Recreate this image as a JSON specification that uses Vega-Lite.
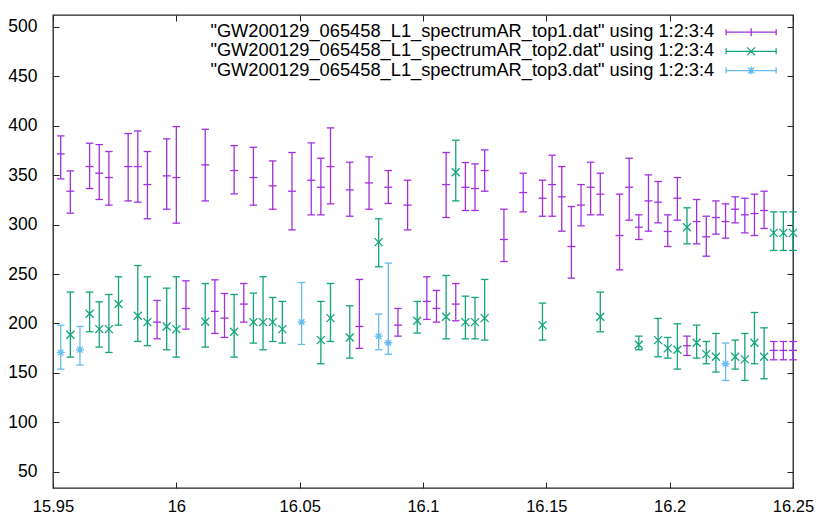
{
 "$schema": "https://vega.github.io/schema/vega-lite/v6.json",
 "width": 740, "height": 473,
 "autosize": {"type": "none"},
 "padding": {"left": 53, "top": 15, "right": 25, "bottom": 27},
 "background": "white",
 "config": {
  "view": {"stroke": "#222", "strokeWidth": 1.3},
  "font": "Liberation Sans",
  "axis": {"labelFont": "Liberation Sans", "labelFontSize": 17.5, "labelColor": "#000", "tickColor": "#222", "tickWidth": 1, "tickSize": -6, "labelPadding": 17, "domain": false, "grid": false, "title": null}
 },
 "data": {"values": [
  {"s":"top1","x":15.953125,"y":371.4,"lo":346.2,"hi":389.6},
  {"s":"top1","x":15.957031,"y":333.7,"lo":311.5,"hi":354.2},
  {"s":"top1","x":15.964844,"y":358.6,"lo":336.4,"hi":382.2},
  {"s":"top1","x":15.96875,"y":351.9,"lo":325.3,"hi":380.8},
  {"s":"top1","x":15.972656,"y":347.5,"lo":319.6,"hi":373.8},
  {"s":"top1","x":15.980469,"y":358.6,"lo":323.9,"hi":392.0},
  {"s":"top1","x":15.984375,"y":358.6,"lo":322.6,"hi":394.6},
  {"s":"top1","x":15.988281,"y":340.4,"lo":305.8,"hi":373.8},
  {"s":"top1","x":15.992188,"y":201.4,"lo":184.5,"hi":223.3},
  {"s":"top1","x":15.996094,"y":349.2,"lo":315.5,"hi":386.6},
  {"s":"top1","x":16.0,"y":347.5,"lo":301.4,"hi":399.0},
  {"s":"top1","x":16.003906,"y":215.2,"lo":194.3,"hi":243.1},
  {"s":"top1","x":16.011719,"y":360.3,"lo":323.9,"hi":396.3},
  {"s":"top1","x":16.015625,"y":212.2,"lo":189.9,"hi":244.1},
  {"s":"top1","x":16.019531,"y":205.4,"lo":185.9,"hi":230.3},
  {"s":"top1","x":16.023438,"y":354.6,"lo":331.0,"hi":379.8},
  {"s":"top1","x":16.027344,"y":219.6,"lo":201.4,"hi":240.4},
  {"s":"top1","x":16.03125,"y":347.5,"lo":319.6,"hi":378.1},
  {"s":"top1","x":16.039063,"y":339.1,"lo":315.5,"hi":364.3},
  {"s":"top1","x":16.046875,"y":333.7,"lo":294.6,"hi":372.8},
  {"s":"top1","x":16.054688,"y":344.8,"lo":309.8,"hi":382.5},
  {"s":"top1","x":16.058594,"y":337.7,"lo":309.8,"hi":367.0},
  {"s":"top1","x":16.0625,"y":358.6,"lo":320.9,"hi":397.7},
  {"s":"top1","x":16.070313,"y":335.0,"lo":308.4,"hi":363.0},
  {"s":"top1","x":16.074219,"y":197.0,"lo":174.8,"hi":244.5},
  {"s":"top1","x":16.078125,"y":342.1,"lo":315.5,"hi":368.4},
  {"s":"top1","x":16.085938,"y":337.7,"lo":321.3,"hi":354.6},
  {"s":"top1","x":16.089844,"y":198.3,"lo":187.2,"hi":215.2},
  {"s":"top1","x":16.09375,"y":319.6,"lo":294.6,"hi":344.8},
  {"s":"top1","x":16.101563,"y":222.3,"lo":204.1,"hi":247.2},
  {"s":"top1","x":16.105469,"y":215.2,"lo":201.4,"hi":233.4},
  {"s":"top1","x":16.109375,"y":340.4,"lo":307.1,"hi":372.8},
  {"s":"top1","x":16.113281,"y":219.6,"lo":202.7,"hi":240.4},
  {"s":"top1","x":16.117188,"y":337.7,"lo":314.2,"hi":362.7},
  {"s":"top1","x":16.121094,"y":336.4,"lo":314.2,"hi":361.3},
  {"s":"top1","x":16.125,"y":354.6,"lo":333.7,"hi":375.4},
  {"s":"top1","x":16.132813,"y":284.9,"lo":262.6,"hi":315.5},
  {"s":"top1","x":16.140625,"y":332.3,"lo":312.8,"hi":351.9},
  {"s":"top1","x":16.148438,"y":326.6,"lo":308.4,"hi":344.8},
  {"s":"top1","x":16.152344,"y":340.4,"lo":308.4,"hi":370.1},
  {"s":"top1","x":16.15625,"y":328.0,"lo":293.3,"hi":358.6},
  {"s":"top1","x":16.160156,"y":277.8,"lo":245.8,"hi":318.2},
  {"s":"top1","x":16.164063,"y":319.6,"lo":298.7,"hi":340.4},
  {"s":"top1","x":16.167969,"y":337.7,"lo":309.8,"hi":363.0},
  {"s":"top1","x":16.171875,"y":330.7,"lo":309.8,"hi":351.9},
  {"s":"top1","x":16.179688,"y":288.9,"lo":254.2,"hi":330.7},
  {"s":"top1","x":16.183594,"y":337.7,"lo":304.4,"hi":367.0},
  {"s":"top1","x":16.1875,"y":297.3,"lo":284.9,"hi":309.8},
  {"s":"top1","x":16.191406,"y":323.9,"lo":293.3,"hi":350.2},
  {"s":"top1","x":16.195313,"y":322.6,"lo":301.7,"hi":343.5},
  {"s":"top1","x":16.199219,"y":293.0,"lo":277.8,"hi":309.8},
  {"s":"top1","x":16.203125,"y":326.6,"lo":304.4,"hi":347.5},
  {"s":"top1","x":16.207031,"y":177.5,"lo":167.7,"hi":187.2},
  {"s":"top1","x":16.210938,"y":303.0,"lo":280.5,"hi":325.3},
  {"s":"top1","x":16.214844,"y":287.6,"lo":268.0,"hi":308.4},
  {"s":"top1","x":16.21875,"y":307.1,"lo":290.3,"hi":323.9},
  {"s":"top1","x":16.222656,"y":303.0,"lo":286.2,"hi":320.9},
  {"s":"top1","x":16.226563,"y":315.5,"lo":301.7,"hi":328.0},
  {"s":"top1","x":16.230469,"y":309.8,"lo":291.6,"hi":326.6},
  {"s":"top1","x":16.234375,"y":311.1,"lo":288.9,"hi":330.7},
  {"s":"top1","x":16.238281,"y":314.2,"lo":296.0,"hi":333.7},
  {"s":"top1","x":16.242188,"y":172.8,"lo":163.3,"hi":181.8},
  {"s":"top1","x":16.246094,"y":172.8,"lo":163.3,"hi":181.8},
  {"s":"top1","x":16.25,"y":172.8,"lo":163.3,"hi":181.8},
  {"s":"top2","x":15.957031,"y":188.6,"lo":166.0,"hi":231.7},
  {"s":"top2","x":15.964844,"y":209.8,"lo":191.6,"hi":231.7},
  {"s":"top2","x":15.96875,"y":194.3,"lo":176.1,"hi":221.9},
  {"s":"top2","x":15.972656,"y":194.3,"lo":170.7,"hi":229.3},
  {"s":"top2","x":15.976563,"y":219.6,"lo":198.3,"hi":247.2},
  {"s":"top2","x":15.984375,"y":207.8,"lo":181.8,"hi":258.6},
  {"s":"top2","x":15.988281,"y":201.4,"lo":177.5,"hi":247.2},
  {"s":"top2","x":15.996094,"y":197.0,"lo":173.4,"hi":235.7},
  {"s":"top2","x":16.0,"y":194.3,"lo":166.0,"hi":247.2},
  {"s":"top2","x":16.011719,"y":201.7,"lo":176.1,"hi":240.4},
  {"s":"top2","x":16.023438,"y":191.6,"lo":166.0,"hi":229.3},
  {"s":"top2","x":16.03125,"y":201.4,"lo":180.2,"hi":230.7},
  {"s":"top2","x":16.035156,"y":201.4,"lo":173.4,"hi":247.2},
  {"s":"top2","x":16.039063,"y":201.4,"lo":181.8,"hi":226.3},
  {"s":"top2","x":16.042969,"y":194.3,"lo":180.2,"hi":222.3},
  {"s":"top2","x":16.058594,"y":183.2,"lo":159.3,"hi":222.3},
  {"s":"top2","x":16.0625,"y":205.4,"lo":181.8,"hi":240.4},
  {"s":"top2","x":16.070313,"y":185.9,"lo":165.0,"hi":217.9},
  {"s":"top2","x":16.082031,"y":282.2,"lo":257.3,"hi":305.8},
  {"s":"top2","x":16.097656,"y":202.7,"lo":190.3,"hi":222.3},
  {"s":"top2","x":16.109375,"y":206.8,"lo":184.5,"hi":248.5},
  {"s":"top2","x":16.113281,"y":352.9,"lo":323.9,"hi":385.2},
  {"s":"top2","x":16.117188,"y":201.4,"lo":184.5,"hi":227.6},
  {"s":"top2","x":16.121094,"y":201.4,"lo":184.5,"hi":226.3},
  {"s":"top2","x":16.125,"y":205.4,"lo":183.2,"hi":244.5},
  {"s":"top2","x":16.148438,"y":198.3,"lo":183.2,"hi":220.6},
  {"s":"top2","x":16.171875,"y":206.8,"lo":191.6,"hi":231.7},
  {"s":"top2","x":16.1875,"y":178.5,"lo":173.4,"hi":187.2},
  {"s":"top2","x":16.195313,"y":183.2,"lo":166.4,"hi":205.1},
  {"s":"top2","x":16.199219,"y":174.8,"lo":165.0,"hi":185.9},
  {"s":"top2","x":16.203125,"y":173.4,"lo":153.9,"hi":199.7},
  {"s":"top2","x":16.207031,"y":297.3,"lo":280.5,"hi":316.9},
  {"s":"top2","x":16.210938,"y":180.5,"lo":165.0,"hi":198.3},
  {"s":"top2","x":16.214844,"y":169.0,"lo":159.3,"hi":181.8},
  {"s":"top2","x":16.21875,"y":166.4,"lo":150.9,"hi":189.9},
  {"s":"top2","x":16.226563,"y":166.4,"lo":153.9,"hi":183.2},
  {"s":"top2","x":16.230469,"y":163.7,"lo":142.4,"hi":189.9},
  {"s":"top2","x":16.234375,"y":180.5,"lo":159.3,"hi":211.1},
  {"s":"top2","x":16.238281,"y":166.4,"lo":144.1,"hi":195.6},
  {"s":"top2","x":16.242188,"y":291.6,"lo":273.8,"hi":312.8},
  {"s":"top2","x":16.246094,"y":291.6,"lo":273.8,"hi":312.8},
  {"s":"top2","x":16.25,"y":291.6,"lo":273.8,"hi":312.8},
  {"s":"top3","x":15.953125,"y":170.7,"lo":153.9,"hi":198.3},
  {"s":"top3","x":15.960938,"y":173.4,"lo":157.9,"hi":197.0},
  {"s":"top3","x":16.050781,"y":201.4,"lo":178.8,"hi":241.4},
  {"s":"top3","x":16.082031,"y":187.2,"lo":173.4,"hi":209.5},
  {"s":"top3","x":16.085938,"y":180.5,"lo":169.0,"hi":261.0},
  {"s":"top3","x":16.222656,"y":159.3,"lo":142.4,"hi":180.2}
 ]},
 "layer": [
  {
   "mark": {"type": "rule", "strokeWidth": 1.3},
   "encoding": {
    "x": {"field": "x", "type": "quantitative", "scale": {"domain": [15.95, 16.25], "nice": false, "zero": false},
          "axis": {"orient": "bottom", "values": [15.95, 16, 16.05, 16.1, 16.15, 16.2, 16.25], "labelExpr": "format(datum.value, '~g')", "labelFlush": false, "labelFontSize": 16.5, "labelBaseline": "alphabetic", "labelPadding": 29}},
    "y": {"field": "lo", "type": "quantitative", "scale": {"domain": [33.7, 511.8], "nice": false, "zero": false},
          "axis": {"orient": "left", "values": [50, 100, 150, 200, 250, 300, 350, 400, 450, 500], "labelPadding": 22}},
    "y2": {"field": "hi"},
    "color": {"field": "s", "type": "nominal",
      "scale": {"domain": ["top1", "top2", "top3"], "range": ["#a030de", "#13a47c", "#64bdee"]},
      "legend": {
        "orient": "none", "legendX": 689, "legendY": 8, "direction": "vertical", "title": null,
        "labelFont": "Liberation Sans", "labelFontSize": 18.3, "labelColor": "#000",
        "labelAlign": "right", "labelOffset": -46, "labelLimit": 1000, "padding": 0, "rowPadding": 0.2,
        "symbolSize": 100, "symbolStrokeWidth": 1.3,
        "labelExpr": "'\"GW200129_065458_L1_spectrumAR_' + datum.label + '.dat\" using 1:2:3:4'",
        "encode": {"symbols": {"update": {
          "shape": {"signal": "datum.value == 'top1' ? 'M-5,0H5M-5,-0.6V0.6M5,-0.6V0.6M0,-0.8V0.8' : datum.value == 'top2' ? 'M-5,0H5M-5,-0.6V0.6M5,-0.6V0.6M-0.8,-0.8L0.8,0.8M-0.8,0.8L0.8,-0.8' : 'M-5,0H5M-5,-0.6V0.6M5,-0.6V0.6M0,-0.8V0.8M-0.6,-0.6L0.6,0.6M-0.6,0.6L0.6,-0.6'"},
          "size": {"value": 100},
          "fill": {"value": "transparent"},
          "strokeWidth": {"value": 1.3},
          "opacity": {"value": 1}
        }}}
      }}
   }
  },
  {
   "mark": {"type": "tick", "orient": "horizontal", "size": 7.5, "thickness": 1.3, "opacity": 1},
   "encoding": {
    "x": {"field": "x", "type": "quantitative",
          "axis": {"orient": "top", "values": [15.95, 16, 16.05, 16.1, 16.15, 16.2, 16.25], "labels": false}},
    "y": {"field": "lo", "type": "quantitative",
          "axis": {"orient": "right", "values": [50, 100, 150, 200, 250, 300, 350, 400, 450, 500], "labels": false}},
    "color": {"field": "s", "type": "nominal"}
   }
  },
  {
   "mark": {"type": "tick", "orient": "horizontal", "size": 7.5, "thickness": 1.3, "opacity": 1},
   "encoding": {
    "x": {"field": "x", "type": "quantitative", "axis": null},
    "y": {"field": "hi", "type": "quantitative", "axis": null},
    "color": {"field": "s", "type": "nominal"}
   }
  },
  {
   "transform": [{"filter": "datum.s == 'top1'"}],
   "mark": {"type": "point", "filled": false, "strokeWidth": 1.3, "size": 64, "opacity": 1, "shape": "M-1,0H1"},
   "encoding": {
    "x": {"field": "x", "type": "quantitative", "axis": null},
    "y": {"field": "y", "type": "quantitative", "axis": null},
    "color": {"field": "s", "type": "nominal"}
   }
  },
  {
   "transform": [{"filter": "datum.s == 'top2'"}],
   "mark": {"type": "point", "filled": false, "strokeWidth": 1.3, "size": 64, "opacity": 1, "shape": "M-1,-1L1,1M-1,1L1,-1"},
   "encoding": {
    "x": {"field": "x", "type": "quantitative", "axis": null},
    "y": {"field": "y", "type": "quantitative", "axis": null},
    "color": {"field": "s", "type": "nominal"}
   }
  },
  {
   "transform": [{"filter": "datum.s == 'top3'"}],
   "mark": {"type": "point", "filled": false, "strokeWidth": 1.3, "size": 64, "opacity": 1, "shape": "M-1,0H1M0,-1V1M-0.7,-0.7L0.7,0.7M-0.7,0.7L0.7,-0.7"},
   "encoding": {
    "x": {"field": "x", "type": "quantitative", "axis": null},
    "y": {"field": "y", "type": "quantitative", "axis": null},
    "color": {"field": "s", "type": "nominal"}
   }
  }
 ],
 "resolve": {"axis": {"x": "independent", "y": "independent"}}
}
